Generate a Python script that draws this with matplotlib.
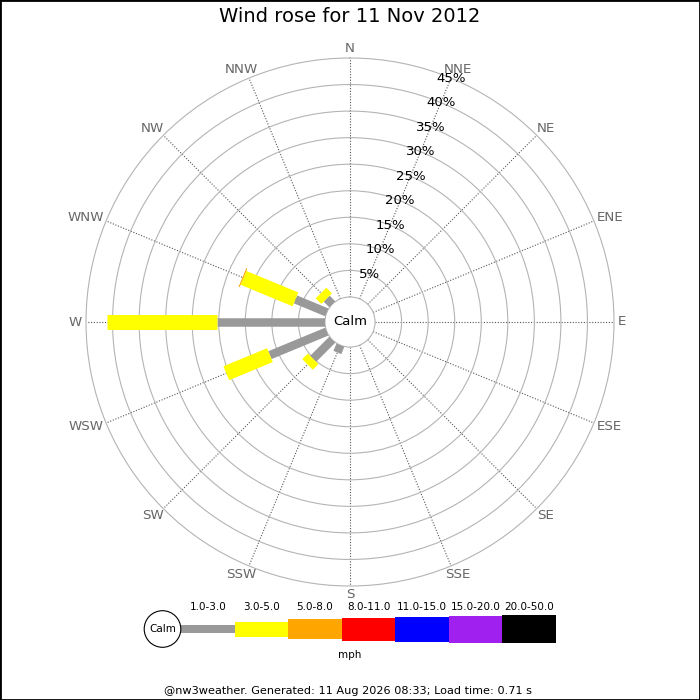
import numpy as np
import matplotlib
matplotlib.use("Agg")
import matplotlib.pyplot as plt
import matplotlib.transforms as mtransforms
from matplotlib.patches import Rectangle, Circle

# ---------------- data ----------------
directions = ["N", "NNE", "NE", "ENE", "E", "ESE", "SE", "SSE",
              "S", "SSW", "SW", "WSW", "W", "WNW", "NW", "NNW"]
speed_bins = ["1.0-3.0", "3.0-5.0", "5.0-8.0", "8.0-11.0",
              "11.0-15.0", "15.0-20.0", "20.0-50.0"]
bin_colors = ["#999999", "#ffff00", "#ffa500", "#ff0000",
              "#0000ff", "#a020f0", "#000000"]
# percentage of time per direction for each speed bin
pct_1_3 = [0, 0, 0, 0, 0, 0, 0, 0, 0, 1.5, 5.1, 11.6, 20.4, 6.4, 1.5, 0]
pct_3_5 = [0, 0, 0, 0, 0, 0, 0, 0, 0, 0, 1.5, 8.9, 20.7, 10.6, 1.5, 0]
pct_5_8 = [0, 0, 0, 0, 0, 0, 0, 0, 0, 0, 0, 0, 0, 0.2, 0, 0]
pct_8_11 = [0] * 16
pct_11_15 = [0] * 16
pct_15_20 = [0] * 16
pct_20_50 = [0] * 16
series = [pct_1_3, pct_3_5, pct_5_8, pct_8_11, pct_11_15, pct_15_20, pct_20_50]
ring_ticks = [5, 10, 15, 20, 25, 30, 35, 40, 45]
title = "Wind rose for 11 Nov 2012"
footer = "@nw3weather. Generated: 11 Aug 2026 08:33; Load time: 0.71 s"

# ---------------- style ----------------
PX = 72.0 / 100.0  # points per pixel at dpi 100
bar_px = [8.5, 15, 20, 23, 25, 27, 28]

fig = plt.figure(figsize=(7, 7), dpi=100)
W = H = 700.0
cx, cy, R = 350.0, 322.0, 264.0
RMAX, RORIG = 45.0, -4.72
scale = R / (RMAX - RORIG)  # px per data unit

ax = fig.add_axes([(cx - R) / W, (H - cy - R) / H, 2 * R / W, 2 * R / H],
                  projection="polar")
ax.set_theta_zero_location("N")
ax.set_theta_direction(-1)
ax.set_ylim(0, RMAX)
ax.set_rorigin(RORIG)
ax.set_yticks(ring_ticks[:-1])
ax.set_yticklabels([])
ax.set_xticks(np.deg2rad(np.arange(16) * 22.5))
ax.set_xticklabels([])
ax.tick_params(length=0)
ax.yaxis.grid(True, color="#b4b4b4", lw=0.8, ls="-")
ax.xaxis.grid(True, color="#555555", lw=0.8, ls=(0, (1, 1.5)))
ax.spines["polar"].set_color("#b4b4b4")
ax.spines["polar"].set_linewidth(0.8)
ax.spines["inner"].set_color("#b4b4b4")
ax.spines["inner"].set_linewidth(0.8)

theta = np.deg2rad(np.arange(16) * 22.5)
cum = np.zeros(16)
for vals, col, wpx in zip(series, bin_colors, bar_px):
    vals = np.asarray(vals, float)
    for i in range(16):
        if vals[i] > 0:
            ax.plot([theta[i], theta[i]], [cum[i], cum[i] + vals[i]],
                    color=col, lw=wpx * PX, solid_capstyle="butt", zorder=3)
    cum = cum + vals

def px_to_r(p):
    return p / scale + RORIG

# direction labels: bbox pushed outward so it just touches radius ~268 px
renderer = fig.canvas.get_renderer()
r_lab = px_to_r(268)
for d, t in zip(directions, theta):
    txt = ax.text(t, r_lab, d, ha="center", va="center", fontsize=9.6,
                  color="#666666")
    bb = txt.get_window_extent(renderer=renderer)
    w = bb.width
    h = 10.0
    dx = 0.5 * w * np.sin(t)
    dy = 0.5 * h * np.cos(t)
    txt.set_transform(mtransforms.offset_copy(ax.transData, fig=fig,
                                              x=dx, y=dy, units="dots"))

for r in ring_ticks:
    ax.text(np.deg2rad(22.5), r, f"{r}%", ha="center", va="center",
            fontsize=9.5, color="black", zorder=4)
ax.text(0.5, 0.5, "Calm", transform=ax.transAxes, ha="center",
        va="center", fontsize=9.5, color="black", zorder=5)

# ---------------- overlay (title, legend, footer) ----------------
ov = fig.add_axes([0, 0, 1, 1], zorder=-1)
ov.set_xlim(0, W)
ov.set_ylim(H, 0)
ov.axis("off")

ov.text(350, 17, title, ha="center", va="center", fontsize=14)

leg_y = 629
seg_x0, seg_x1 = 181.0, 556.0
seg_w = (seg_x1 - seg_x0) / len(speed_bins)
for k, (lab, col, wpx) in enumerate(zip(speed_bins, bin_colors, bar_px)):
    x0 = seg_x0 + k * seg_w
    ov.add_patch(Rectangle((x0, leg_y - wpx / 2), seg_w, wpx,
                           facecolor=col, edgecolor="none"))
    ov.text(x0 + seg_w / 2, 607, lab, ha="center", va="center",
            fontsize=7.5)
ov.add_patch(Circle((162.5, leg_y), 18.3, facecolor="white",
                    edgecolor="black", lw=0.8, zorder=3))
ov.text(162.5, leg_y, "Calm", ha="center", va="center", fontsize=7.5,
        zorder=4)
ov.text(350, 655, "mph", ha="center", va="center", fontsize=7.5)
ov.text(348, 691, footer, ha="center", va="center", fontsize=8.15)

fig.patches.append(Rectangle((0, 0), 1, 1, transform=fig.transFigure,
                             fill=False, edgecolor="black", lw=2,
                             figure=fig))

fig.savefig("out.png", dpi=100, facecolor="white")
